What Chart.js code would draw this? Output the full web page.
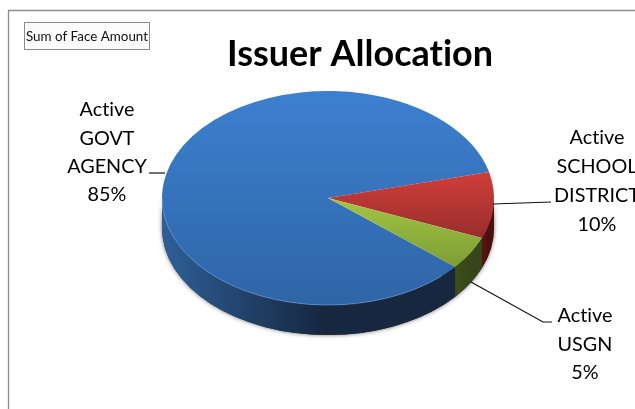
<!DOCTYPE html>
<html>
<head>
<meta charset="utf-8">
<style>html,body{margin:0;padding:0;background:#fff}canvas{display:block}</style>
<script src="https://cdn.jsdelivr.net/npm/chart.js@4"></script>
</head>
<body>
<canvas id="pie" width="635" height="409"></canvas>
<script>
// Issuer allocation, share of face amount
const categories = [["Active","GOVT","AGENCY"],["Active","SCHOOL","DISTRICT"],["Active","USGN"]];
const shares = [85, 10, 5];
const titleText = "Issuer Allocation";
const noteText = "Sum of Face Amount";

const topColors = [["#3d80d0","#2e65a6"],["#d03d3a","#9a2f2d"],["#a2c644","#7d9c35"]];
const topGradientSpans = [[32,364],[158,255],[198,307]];
const wallColors = [["#2e5f99","#16273f","#16273f"],["#5c1412","#4a0f0e","#4a0f0e"],["#3d4f18","#36461a","#36461a"]];

const TILT = 0.645, DEPTH = 30;
const FONT = '"Lato","Open Sans",sans-serif';

const labelPlacement = [
  {x:107, y:110, lh:28.3, leader:[[165,173],[149,173]]},
  {x:597, y:138, lh:29,   leader:[[493,204],[551,202]]},
  {x:585, y:316, lh:28.5, leader:[[471,282],[543,322],[552,322]]}
];

// Side wall of the disc, drawn under the tilted top face from the arc angles
function drawWalls(chart){
  const c = chart.ctx, arcs = chart.getDatasetMeta(0).data;
  const cx = arcs[0].x, cy = arcs[0].y, rx = arcs[0].outerRadius, ry = rx*TILT;
  c.save();
  c.shadowColor = "rgba(60,60,60,.75)"; c.shadowBlur = 4;
  c.fillStyle = "#333";
  c.beginPath();
  c.ellipse(cx,cy,rx,ry,0,0,Math.PI);
  c.ellipse(cx,cy+DEPTH,rx,ry,0,Math.PI,0,true);
  c.closePath(); c.fill();
  c.restore();
  const tau = Math.PI*2;
  arcs.forEach((a,i)=>{
    const s = ((a.startAngle%tau)+tau)%tau;
    let ranges = [];
    const e = s+(a.endAngle-a.startAngle);
    for (const off of [0,-tau]) {
      const lo = Math.max(s+off,0), hi = Math.min(e+off,Math.PI);
      if (hi>lo) ranges.push([lo,hi]);
    }
    ranges.forEach(([lo,hi])=>{
      const g = c.createLinearGradient(cx+rx*Math.cos(hi),0,cx+rx*Math.cos(lo),0);
      const w = wallColors[i];
      g.addColorStop(0,w[0]); g.addColorStop(0.55,w[1]); g.addColorStop(1,w[2]);
      c.fillStyle = g;
      c.beginPath();
      c.ellipse(cx,cy,rx,ry,0,lo,hi);
      c.ellipse(cx,cy+DEPTH,rx,ry,0,hi,lo,true);
      c.closePath(); c.fill();
    });
  });
}

const tiltPlugin = {
  id:"tilt",
  beforeDatasetsDraw(chart){
    const c = chart.ctx, a = chart.getDatasetMeta(0).data[0];
    drawWalls(chart);
    c.save();
    c.translate(a.x,a.y); c.scale(1,TILT); c.translate(-a.x,-a.y);
  },
  afterDatasetsDraw(chart){
    const c = chart.ctx, a = chart.getDatasetMeta(0).data[0];
    c.restore();
    // thin highlight along the front rim of the top face
    c.save();
    c.strokeStyle = "rgba(120,170,235,.55)"; c.lineWidth = 1;
    c.beginPath(); c.ellipse(a.x,a.y,a.outerRadius,a.outerRadius*TILT,0,Math.PI*0.26,Math.PI); c.stroke();
    c.restore();
  }
};

const textPlugin = {
  id:"texts",
  beforeDraw(chart){
    const c = chart.ctx;
    c.save();
    c.fillStyle = "#fff"; c.fillRect(0,0,635,409);
    // outer frame: top and left edges
    c.strokeStyle = "#8c8c8c"; c.lineWidth = 1.3;
    c.beginPath(); c.moveTo(8.5,409); c.lineTo(8.5,10.5); c.lineTo(635,10.5); c.stroke();
    c.restore();
  },
  afterDraw(chart){
    const c = chart.ctx, total = shares.reduce((p,q)=>p+q,0);
    c.save();
    c.letterSpacing = "0.01px"; // keeps "ti" as two separate glyphs
    // note box
    c.fillStyle = "#fbfbfb"; c.strokeStyle = "#8c8c8c"; c.lineWidth = 1;
    c.fillRect(24.5,22.5,125,27); c.strokeRect(24.5,22.5,125,27);
    c.fillStyle = "#111"; c.textAlign = "center"; c.textBaseline = "middle";
    c.font = "13.4px "+FONT; c.fillText(noteText,87,36.5);
    // title
    c.fillStyle = "#000"; c.font = "bold 36px "+FONT; c.fillText(titleText,360,54);
    // data labels and leader lines
    c.font = "19.8px "+FONT; c.fillStyle = "#000"; c.strokeStyle = "#111"; c.lineWidth = 1.2;
    categories.forEach((lines,i)=>{
      const p = labelPlacement[i];
      [...lines, Math.round(shares[i]/total*100)+"%"].forEach((t,j)=>c.fillText(t,p.x,p.y+j*p.lh));
      c.beginPath();
      p.leader.forEach(([x,y],k)=>k?c.lineTo(x,y):c.moveTo(x,y));
      c.stroke();
    });
    c.restore();
  }
};

const canvas = document.getElementById("pie");
const ctx2d = canvas.getContext("2d");
const fills = topColors.map(([a,b],i)=>{
  const g = ctx2d.createLinearGradient(0,topGradientSpans[i][0],0,topGradientSpans[i][1]);
  g.addColorStop(0,a); g.addColorStop(1,b);
  return g;
});

new Chart(canvas,{
  type:"pie",
  data:{labels:categories.map(l=>l.join(" ")),datasets:[{data:shares,backgroundColor:fills,borderWidth:0}]},
  options:{
    responsive:false,animation:false,rotation:130,
    layout:{padding:{left:162,right:141,top:32,bottom:45}},
    plugins:{legend:{display:false},tooltip:{enabled:false},title:{display:false}}
  },
  plugins:[tiltPlugin,textPlugin]
});
</script>
</body>
</html>
